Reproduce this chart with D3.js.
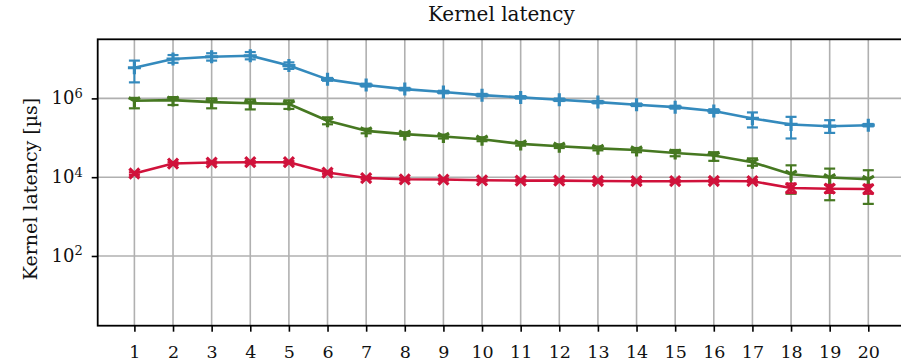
<!DOCTYPE html>
<html><head><meta charset="utf-8">
<script src="https://cdn.jsdelivr.net/npm/d3@7"></script>
<style>body{margin:0;background:#fff}svg{display:block}</style>
</head><body>
<svg id="chart" width="901" height="363"></svg>
<script>
const categories = [1,2,3,4,5,6,7,8,9,10,11,12,13,14,15,16,17,18,19,20];
// blue series (+ markers)
const blueVals  = [6.0e6,1.0e7,1.14e7,1.21e7,6.8e6,3.04e6,2.18e6,1.72e6,1.45e6,1.21e6,1.06e6,9.2e5,8.05e5,6.9e5,6.0e5,4.8e5,3.1e5,2.18e5,1.97e5,2.09e5];
const blueLow   = [2.55e6,8.0e6,9.1e6,9.8e6,5.6e6,2.8e6,2.0e6,1.6e6,1.35e6,1.13e6,9.9e5,8.6e5,7.5e5,6.4e5,5.5e5,4.3e5,1.83e5,9.6e4,1.33e5,1.95e5];
const blueHigh  = [9.1e6,1.26e7,1.4e7,1.5e7,8.2e6,3.3e6,2.36e6,1.85e6,1.56e6,1.3e6,1.14e6,9.9e5,8.6e5,7.4e5,6.5e5,5.3e5,4.4e5,3.4e5,2.8e5,2.24e5];
// green series (tri markers)
const greenVals = [8.7e5,9.05e5,8.05e5,7.5e5,7.2e5,2.7e5,1.5e5,1.24e5,1.08e5,9.2e4,7.0e4,6.1e4,5.4e4,4.9e4,4.1e4,3.55e4,2.4e4,1.19e4,9.8e3,8.85e3];
const greenLow  = [5.6e5,6.8e5,5.6e5,5.25e5,5.4e5,2.2e5,1.3e5,1.12e5,9.6e4,8.2e4,6.3e4,5.5e4,4.8e4,4.3e4,3.4e4,2.6e4,1.95e4,3.8e3,2.6e3,2.1e3];
const greenHigh = [1.03e6,1.08e6,1.0e6,9.4e5,8.9e5,3.3e5,1.7e5,1.38e5,1.2e5,1.03e5,7.8e4,6.8e4,6.0e4,5.5e4,4.9e4,4.3e4,3.0e4,2.0e4,1.65e4,1.5e4];
// red series (x markers)
const redVals   = [1.24e4,2.22e4,2.35e4,2.4e4,2.4e4,1.31e4,9.5e3,8.85e3,8.7e3,8.35e3,8.2e3,8.2e3,8.0e3,7.9e3,7.9e3,8.0e3,7.9e3,5.3e3,5.1e3,5.0e3];
const redLow    = [1.15e4,2.05e4,2.2e4,2.25e4,2.25e4,1.22e4,8.9e3,8.3e3,8.2e3,7.9e3,7.7e3,7.7e3,7.5e3,7.4e3,7.4e3,7.5e3,7.4e3,3.96e3,4.0e3,3.8e3];
const redHigh   = [1.33e4,2.4e4,2.5e4,2.55e4,2.55e4,1.4e4,1.01e4,9.4e3,9.2e3,8.8e3,8.7e3,8.7e3,8.5e3,8.4e3,8.4e3,8.5e3,8.4e3,6.9e3,6.4e3,6.4e3];
const yTicks = [100, 10000, 1000000];
const yTickExp = ["2","4","6"];
const title = "Kernel latency";
const yLabel = "Kernel latency [µs]";

const series = [
  {vals: blueVals, low: blueLow, high: blueHigh, color: "#348ABD", marker: "plus"},
  {vals: greenVals, low: greenLow, high: greenHigh, color: "#467821", marker: "tri"},
  {vals: redVals, low: redLow, high: redHigh, color: "#D0123B", marker: "x"}
];

const svg = d3.select("#chart");
const L = 97.7, R = 905, T = 39.3, B = 325.7;
const x = d3.scaleLinear().domain([0.05, 20.95]).range([L, R]);
const y = d3.scaleLog().domain([Math.pow(10,0.23), Math.pow(10,7.5)]).range([B, T]);
const font = "DejaVu Serif";

// grid
const g = svg.append("g");
g.selectAll("line.vg").data(categories).join("line")
  .attr("x1", d => x(d)).attr("x2", d => x(d)).attr("y1", T).attr("y2", B)
  .attr("stroke", "#b0b0b0").attr("stroke-width", 1.6);
g.selectAll("line.hg").data(yTicks).join("line")
  .attr("x1", L).attr("x2", R).attr("y1", d => y(d)).attr("y2", d => y(d))
  .attr("stroke", "#b0b0b0").attr("stroke-width", 1.6);

// series
series.forEach(s => {
  const sg = svg.append("g");
  const line = d3.line().x((d,i) => x(categories[i])).y(d => y(d));
  sg.append("path").datum(s.vals).attr("d", line).attr("fill", "none")
    .attr("stroke", s.color).attr("stroke-width", 2.6).attr("stroke-linejoin", "round");
  categories.forEach((c, i) => {
    const cx = x(c);
    const y1 = y(s.low[i]), y2 = y(s.high[i]);
    sg.append("line").attr("x1", cx).attr("x2", cx).attr("y1", y1).attr("y2", y2)
      .attr("stroke", s.color).attr("stroke-width", 2);
    [y1, y2].forEach(yy => sg.append("line").attr("x1", cx-5.5).attr("x2", cx+5.5)
      .attr("y1", yy).attr("y2", yy).attr("stroke", s.color).attr("stroke-width", 2.2));
    const cy = y(s.vals[i]);
    let p;
    if (s.marker === "plus") {
      p = `M${cx-6.5},${cy}L${cx+6.5},${cy}M${cx},${cy-6.5}L${cx},${cy+6.5}`;
    } else if (s.marker === "x") {
      p = `M${cx-5},${cy-5}L${cx+5},${cy+5}M${cx-5},${cy+5}L${cx+5},${cy-5}`;
    } else {
      const r = 6.5;
      p = `M${cx},${cy}L${cx},${cy+r}M${cx},${cy}L${cx-r*0.866},${cy-r*0.5}M${cx},${cy}L${cx+r*0.866},${cy-r*0.5}`;
    }
    sg.append("path").attr("d", p).attr("stroke", s.color).attr("stroke-width", 3.2).attr("fill", "none");
  });
});

// frame
svg.append("rect").attr("x", L).attr("y", T).attr("width", R - L).attr("height", B - T)
  .attr("fill", "none").attr("stroke", "#000").attr("stroke-width", 1.8);

// axes
const xAxis = svg.append("g").attr("transform", `translate(0,${B})`)
  .call(d3.axisBottom(x).tickValues(categories).tickFormat(d3.format("d")).tickSize(6).tickPadding(14));
xAxis.select(".domain").remove();
xAxis.selectAll("line").attr("stroke", "#000").attr("stroke-width", 1.6);
xAxis.selectAll("text").attr("font-family", font).attr("font-size", 17.5).attr("fill", "#111");

const yAxis = svg.append("g").attr("transform", `translate(${L},0)`)
  .call(d3.axisLeft(y).tickValues(yTicks).tickFormat(() => "").tickSize(6));
yAxis.select(".domain").remove();
yAxis.selectAll("line").attr("stroke", "#000").attr("stroke-width", 1.6);
yAxis.selectAll(".tick").each(function(d, i) {
  const t = d3.select(this).select("text").attr("font-family", font).attr("font-size", 18)
    .attr("fill", "#111").attr("x", -15).attr("dy", "0.3em").attr("text-anchor", "end");
  t.text(null);
  t.append("tspan").text("10");
  t.append("tspan").attr("dy", "-0.5em").attr("font-size", 13).text(yTickExp[i]);
});

svg.append("text").attr("x", (L + R) / 2).attr("y", 21).attr("text-anchor", "middle")
  .attr("font-family", font).attr("font-size", 20).attr("fill", "#111").text(title);
svg.append("text").attr("transform", `translate(37,189) rotate(-90)`)
  .attr("text-anchor", "middle").attr("font-family", font).attr("font-size", 19)
  .attr("fill", "#111").text(yLabel);
</script>
</body></html>
